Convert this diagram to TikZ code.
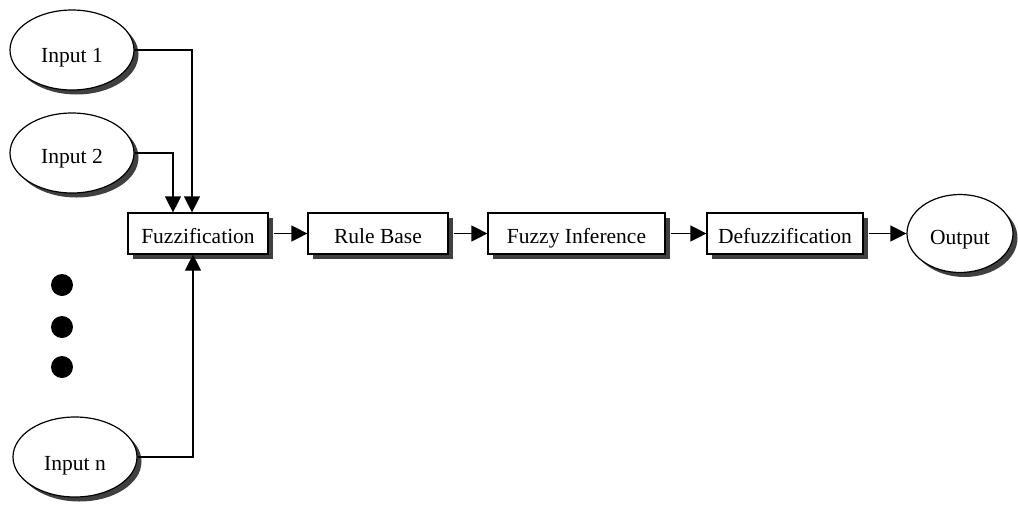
\documentclass[tikz,border=0pt]{standalone}
\usepackage{fontspec}
\setmainfont{Liberation Serif}
\usetikzlibrary{shapes.geometric,shadows,arrows.meta}
\newcommand{\lowtxt}[2]{\raisebox{-#1}[0pt][0pt]{#2}}
\begin{document}
\begin{tikzpicture}[x=1pt,y=-1pt,
  shd/.style={drop shadow={shadow xshift=4.5pt,shadow yshift=-4.5pt,fill=black!75,opacity=1}},
  inp/.style={ellipse,draw,line width=1.2pt,fill=white,shd,minimum width=124pt,minimum height=80pt,inner sep=0pt,font=\fontsize{21.5}{25}\selectfont},
  blk/.style={rectangle,draw,line width=1.2pt,fill=white,shd,minimum height=41pt,inner sep=0pt,font=\fontsize{21.5}{25}\selectfont},
  arr/.style={line width=1.2pt,-{Triangle[length=16pt,width=16pt]}},
  dot/.style={circle,fill=black,minimum size=22pt,inner sep=0pt}]
\useasboundingbox (0,0) rectangle (1018,504);
\node[inp] (in1) at (72,50) {\lowtxt{12pt}{Input 1}};
\node[inp] (in2) at (72,153) {\lowtxt{10pt}{Input 2}};
\node[inp] (inn) at (75,457) {\lowtxt{13pt}{Input n}};
\node[inp,minimum width=106pt,minimum height=78pt] (out) at (960,233.5) {\lowtxt{10.5pt}{Output}};
\node[blk,minimum width=140pt] (fz) at (198,233.5) {\lowtxt{10pt}{Fuzzification}};
\node[blk,minimum width=140pt] (rb) at (378,233.5) {\lowtxt{10pt}{Rule Base}};
\node[blk,minimum width=177pt] (fi) at (576.5,233.5) {\lowtxt{10pt}{Fuzzy Inference}};
\node[blk,minimum width=156pt] (df) at (785,233.5) {\lowtxt{10pt}{Defuzzification}};
\node[dot] (d1) at (62,285) {};
\node[dot] (d2) at (62,327) {};
\node[dot] (d3) at (62,367) {};
\draw[arr] (in1.east) -| ([xshift=-6pt]fz.north);
\draw[arr] (in2.east) -| ([xshift=-25pt]fz.north);
\draw[arr] (inn.east) -| ([xshift=-5pt]fz.south);
\draw[arr] ([xshift=5pt]fz.east) -- (rb.west);
\draw[arr] ([xshift=5pt]rb.east) -- (fi.west);
\draw[arr] ([xshift=5pt]fi.east) -- (df.west);
\draw[arr] ([xshift=5pt]df.east) -- (out.west);
\end{tikzpicture}
\end{document}
